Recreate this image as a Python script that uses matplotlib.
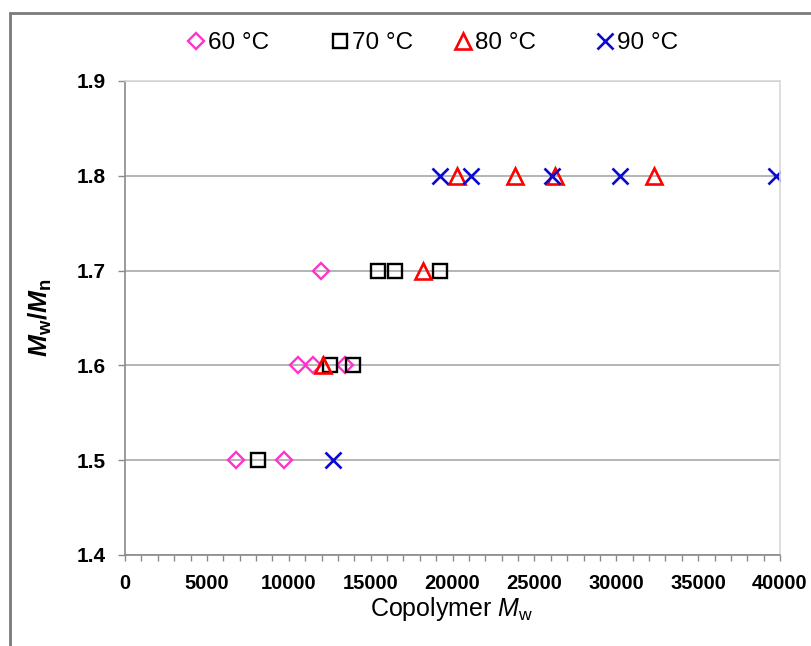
import numpy as np
import matplotlib
matplotlib.use('Agg')
import matplotlib.pyplot as plt
from matplotlib.patches import Rectangle
from matplotlib.ticker import MultipleLocator, FormatStrFormatter

plt.rcParams['font.family'] = ['Liberation Sans', 'DejaVu Sans']
plt.rcParams['mathtext.fontset'] = 'custom'
plt.rcParams['mathtext.rm'] = 'Liberation Sans'
plt.rcParams['mathtext.it'] = 'Liberation Sans:italic'
plt.rcParams['mathtext.bf'] = 'Liberation Sans:bold'
plt.rcParams['mathtext.bfit'] = 'Liberation Sans:italic:bold'

# data (copolymer Mw vs. dispersity)
mw_60 = [6780, 9710, 10560, 11480, 13430, 11970]
pdi_60 = [1.5, 1.5, 1.6, 1.6, 1.6, 1.7]

mw_70 = [8120, 12520, 13920, 15450, 16490, 19240]
pdi_70 = [1.5, 1.6, 1.6, 1.7, 1.7, 1.7]

mw_80 = [12090, 18200, 20270, 23820, 26260, 32300]
pdi_80 = [1.6, 1.7, 1.8, 1.8, 1.8, 1.8]

mw_90 = [12700, 19240, 21130, 26080, 30230, 39760]
pdi_90 = [1.5, 1.8, 1.8, 1.8, 1.8, 1.8]

labels = ['60 °C', '70 °C', '80 °C', '90 °C']

W, H = 811, 646
fig = plt.figure(figsize=(W / 100, H / 100), dpi=100)
ax = fig.add_axes([125 / W, (H - 555) / H, (780 - 125) / W, (555 - 81) / H])

h1, = ax.plot(mw_60, pdi_60, ls='none', marker='D', ms=7.8, mfc='none', mec='#ff33cc', mew=1.7, label=labels[0])
h2, = ax.plot(mw_70, pdi_70, ls='none', marker='s', ms=10.5, mfc='none', mec='black', mew=1.7, label=labels[1])
h3, = ax.plot(mw_80, pdi_80, ls='none', marker='^', ms=11, mfc='none', mec='#ff0000', mew=1.9, label=labels[2])
h4, = ax.plot(mw_90, pdi_90, ls='none', marker='x', ms=11, mec='#0a0ad0', mew=1.9, label=labels[3])

ax.set_xlim(0, 40000)
ax.set_ylim(1.4, 1.9)
ax.xaxis.set_major_locator(MultipleLocator(5000))
ax.xaxis.set_minor_locator(MultipleLocator(1000))
ax.yaxis.set_major_locator(MultipleLocator(0.1))
ax.yaxis.set_major_formatter(FormatStrFormatter('%.1f'))

ax.grid(axis='y', color='#a8a8a8', lw=1.2)
ax.set_axisbelow(True)
for s in ['left', 'bottom']:
    ax.spines[s].set_color('#8a8a8a')
    ax.spines[s].set_linewidth(1.2)
for s in ['top', 'right']:
    ax.spines[s].set_color('#d8d8d8')
    ax.spines[s].set_linewidth(1.2)

ax.tick_params(axis='x', which='both', direction='out', length=4.5, width=1, color='#8a8a8a',
               pad=9, labelsize=14.5, top=False)
ax.tick_params(axis='y', which='major', direction='out', length=5, width=1, color='#8a8a8a',
               pad=9, labelsize=15, right=False)
for t in ax.get_xticklabels() + ax.get_yticklabels():
    t.set_fontweight('bold')

fig.text(452 / W, 1 - 609 / H, 'Copolymer $M_\\mathrm{w}$', ha='center', va='center', fontsize=18)
fig.text(40 / W, 1 - 318 / H, '$\\mathbfit{M}_\\mathbf{w}\\mathbf{/}\\mathbfit{M}_\\mathbf{n}$',
         rotation=90, ha='center', va='center', fontsize=19)

# legend entries placed one by one, as in the reference the gaps are uneven
fs_leg = 17.5
em = fs_leg * 100 / 72
for h, xc in zip([h1, h2, h3, h4], [196, 340, 463, 605]):
    fig.legend(handles=[h], loc='center left', bbox_to_anchor=((xc - 0.3 * em) / W, 1 - 43 / H),
               frameon=False, prop={'size': fs_leg}, handlelength=0.6, handletextpad=0.2,
               borderpad=0, borderaxespad=0)

# outer chart border (only left and top edges visible in the reference)
fig.add_artist(Rectangle((10 / W, -0.1), 1.2, (H - 13) / H + 0.1, transform=fig.transFigure,
                         fill=False, ec='#7a7a7a', lw=2, clip_on=False))

fig.savefig('out.png', dpi=100)
